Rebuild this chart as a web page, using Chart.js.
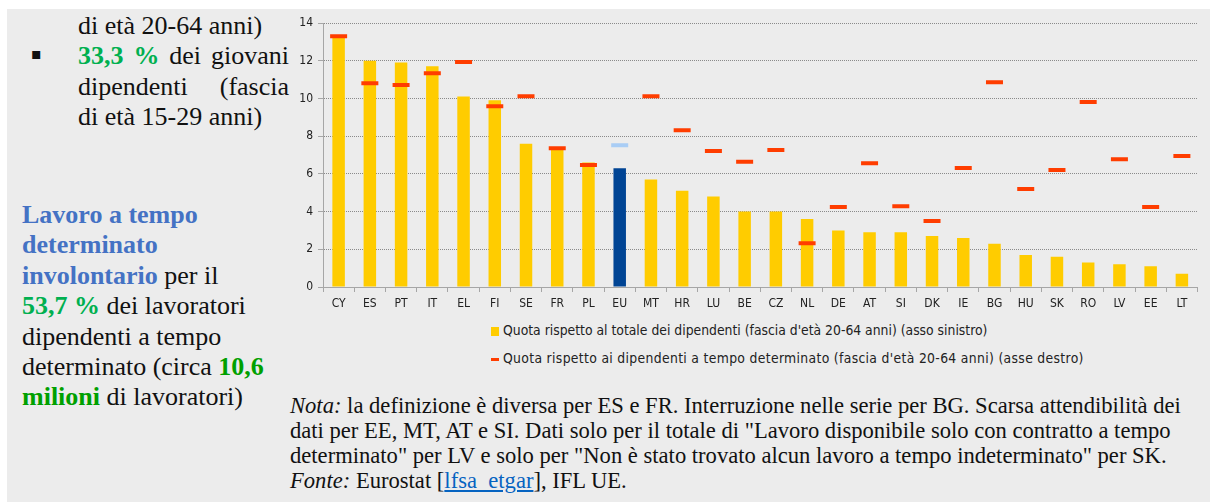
<!DOCTYPE html>
<html lang="it">
<head>
<meta charset="utf-8">
<script src="https://cdn.jsdelivr.net/npm/chart.js@4"></script>
<style>
  body { margin: 0; background: #fff; width: 1210px; height: 504px; overflow: hidden; position: relative; }
  .panel { position: absolute; left: 7px; top: 9px; width: 1203px; height: 493px; background: #ececec; }
  .txt { position: absolute; font-family: 'Liberation Serif', 'Times New Roman', serif; color: #111; white-space: nowrap; }
  .side { font-size: 26px; line-height: 30.4px; }
  .just { text-align: justify; text-align-last: justify; }
  .green { color: #00b050; font-weight: bold; }
  .green2 { color: #00a000; font-weight: bold; }
  .blue { color: #4472c4; font-weight: bold; }
  .note { font-size: 22.6px; line-height: 25px; }
  #chartBox { position: absolute; left: 290px; top: 0; width: 920px; height: 315px; }
  #legend { position: absolute; left: 491px; top: 321px; font-family: 'Liberation Sans Narrow', 'DejaVu Sans Condensed', sans-serif; font-size: 13.8px; color: #222; }
  #legend div { height: 28px; line-height: 18px; white-space: nowrap; }
  #legend div.wide { letter-spacing: 0.33px; }
  #legend span.box { display: inline-block; margin-right: 4px; vertical-align: middle; }
</style>
</head>
<body>
<div class="panel"></div>

<div class="txt side" style="left:78px; top:11px; width:211px;">
  <div>di età 20-64 anni)</div>
  <div class="just"><span class="green">33,3 %</span> dei giovani</div>
  <div class="just">dipendenti (fascia</div>
  <div>di età 15-29 anni)</div>
</div>
<div class="txt" style="left:31px; top:44px; font-size:16px; font-family:'DejaVu Sans',sans-serif;">&#9642;</div>

<div class="txt side" style="left:22px; top:200px;">
  <div class="blue">Lavoro a tempo</div>
  <div class="blue">determinato</div>
  <div><span class="blue">involontario</span> per il</div>
  <div><span class="green">53,7 %</span> dei lavoratori</div>
  <div>dipendenti a tempo</div>
  <div>determinato (circa <span class="green2">10,6</span></div>
  <div><span class="green2">milioni</span> di lavoratori)</div>
</div>

<div class="txt note" style="left:290px; top:393px;">
  <div><i>Nota:</i> la definizione è diversa per ES e FR. Interruzione nelle serie per BG. Scarsa attendibilità dei</div>
  <div>dati per EE, MT, AT e SI. Dati solo per il totale di "Lavoro disponibile solo con contratto a tempo</div>
  <div>determinato" per LV e solo per "Non è stato trovato alcun lavoro a tempo indeterminato" per SK.</div>
  <div><i>Fonte:</i> Eurostat [<span style="color:#0563c1; text-decoration:underline;">lfsa_etgar</span>], IFL UE.</div>
</div>

<div id="chartBox"><canvas id="chart"></canvas></div>
<div id="legend"></div>

<script>
// Paesi
const countries = ['CY', 'ES', 'PT', 'IT', 'EL', 'FI', 'SE', 'FR', 'PL', 'EU', 'MT', 'HR', 'LU', 'BE',
  'CZ', 'NL', 'DE', 'AT', 'SI', 'DK', 'IE', 'BG', 'HU', 'SK', 'RO', 'LV', 'EE', 'LT']

// Quota rispetto al totale dei dipendenti (asse sinistro, %)
const shareOfAllEmployees = [13.2, 12.0, 11.9, 11.7, 10.1, 9.9, 7.6, 7.3, 6.6, 6.3, 5.7, 5.1, 4.8, 4.0,
  4.0, 3.6, 3.0, 2.9, 2.9, 2.7, 2.6, 2.3, 1.7, 1.6, 1.3, 1.2, 1.1, 0.7]

// Quota rispetto ai dipendenti a tempo determinato (asse destro, %)
const shareOfTemporary = [95.0, 77.2, 76.5, 81.0, 85.2, 68.5, 72.3, 52.6, 46.2, 53.7, 72.3, 59.4, 51.5, 47.4,
  51.9, 16.6, 30.3, 46.9, 30.6, 25.0, 45.1, 77.6, 37.1, 44.3, 70.1, 48.4, 30.3, 49.6]

const leftTicks = [0, 2, 4, 6, 8, 10, 12, 14]

const labelAll = "Quota rispetto al totale dei dipendenti (fascia d'età 20-64 anni) (asso sinistro)"
const labelTemp = "Quota rispetto ai dipendenti a tempo determinato (fascia d'età 20-64 anni) (asse destro)"

const YELLOW = '#ffcc00'
const EU_BLUE = '#004494'
const RED = '#ff3d00'
const EU_LIGHT = '#a9cdf5'
const AXIS = '#a6a6a6'

const chartFont = "'Liberation Sans Narrow', 'DejaVu Sans Condensed', sans-serif"

const chart = new Chart(document.getElementById('chart'), {
  data: {
    labels: countries,
    datasets: [
      {
        type: 'line',
        label: labelTemp,
        data: shareOfTemporary,
        yAxisID: 'y2',
        showLine: false,
        pointStyle: 'line',
        pointRadius: 8.5,
        pointHoverRadius: 8.5,
        pointBorderWidth: 4,
        pointBorderColor: countries.map(c => c === 'EU' ? EU_LIGHT : RED),
        pointBackgroundColor: countries.map(c => c === 'EU' ? EU_LIGHT : RED),
        order: 1
      },
      {
        type: 'bar',
        label: labelAll,
        data: shareOfAllEmployees,
        yAxisID: 'y',
        backgroundColor: countries.map(c => c === 'EU' ? EU_BLUE : YELLOW),
        barPercentage: 0.4,
        categoryPercentage: 1,
        order: 2
      }
    ]
  },
  options: {
    responsive: true,
    maintainAspectRatio: false,
    animation: false,
    events: [],
    layout: { padding: { top: 23, right: 0, left: 0, bottom: 0 } },
    plugins: {
      legend: { display: false },
      tooltip: { enabled: false }
    },
    scales: {
      x: {
        grid: { offset: true, drawOnChartArea: false, tickLength: 5, color: AXIS },
        border: { color: AXIS, width: 1 },
        ticks: { font: { family: chartFont, size: 12 }, color: '#222', padding: 5, maxRotation: 0, autoSkip: false },
        afterFit: scale => { scale.height = 28 }
      },
      y: {
        position: 'left',
        min: 0,
        max: 14,
        afterBuildTicks: scale => { scale.ticks = leftTicks.map(v => ({ value: v })) },
        grid: { color: '#8a8a8a', tickLength: 5, tickColor: AXIS, tickBorderDash: [] },
        border: { color: AXIS, width: 1, dash: [1, 1] },
        ticks: { font: { family: chartFont, size: 12 }, color: '#222', padding: 5 },
        afterFit: scale => { scale.width = 33 }
      },
      y2: {
        display: false,
        min: 0,
        max: 100
      }
    }
  }
})

// legenda HTML, costruita dai dataset
const legend = document.getElementById('legend')
const legendItems = [chart.data.datasets[1], chart.data.datasets[0]]
legendItems.forEach(ds => {
  const row = document.createElement('div')
  const box = document.createElement('span')
  box.className = 'box'
  if (ds.type === 'bar') {
    box.style.cssText = `width:8px;height:9px;background:${YELLOW}`
  } else {
    row.className = 'wide'
    box.style.cssText = `width:8px;height:3px;background:${RED}`
  }
  row.appendChild(box)
  row.appendChild(document.createTextNode(ds.label))
  legend.appendChild(row)
})
</script>
</body>
</html>
